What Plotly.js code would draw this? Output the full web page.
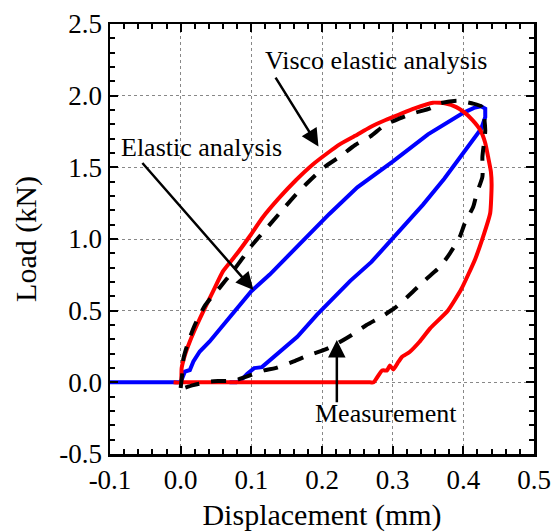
<!DOCTYPE html>
<html>
<head>
<meta charset="utf-8">
<script src="https://cdn.plot.ly/plotly-3.0.1.min.js"></script>
<style>html,body{margin:0;padding:0;background:#fff;}#chart{width:553px;height:532px;}</style>
</head>
<body>
<div id="chart"></div>
<script>
// Elastic analysis (blue)
const elasticX = [-0.1, -0.01, 0, 0.006, 0.013, 0.018, 0.027, 0.041, 0.060, 0.079, 0.1, 0.126, 0.154, 0.182, 0.210, 0.25, 0.3, 0.35, 0.4, 0.415, 0.425, 0.431, 0.431, 0.425, 0.412, 0.4, 0.373, 0.343, 0.3, 0.27, 0.24, 0.212, 0.193, 0.165, 0.146, 0.127, 0.115, 0.104, 0.094, 0.085, 0.079, 0.069];
const elasticY = [0, 0, 0, 0.075, 0.086, 0.145, 0.215, 0.285, 0.40, 0.519, 0.636, 0.752, 0.893, 1.033, 1.173, 1.36, 1.54, 1.73, 1.88, 1.915, 1.926, 1.91, 1.85, 1.767, 1.68, 1.6, 1.42, 1.24, 1.0, 0.84, 0.708, 0.566, 0.472, 0.318, 0.236, 0.153, 0.106, 0.099, 0.059, 0.012, 0, 0];

// Visco elastic analysis (red): flat start, loop, then flat return
const viscoX = [-0.01, 0, 0.0014, 0.006, 0.013, 0.023, 0.032, 0.046, 0.060, 0.079, 0.098, 0.116, 0.140, 0.163, 0.187, 0.208, 0.225, 0.247, 0.268, 0.29, 0.31, 0.33, 0.357, 0.375, 0.39, 0.401, 0.413, 0.424, 0.431, 0.435, 0.439, 0.440, 0.438, 0.428, 0.417, 0.397, 0.378, 0.353, 0.338, 0.324, 0.313, 0.308, 0.301, 0.296, 0.292, 0.285, 0.273, 0.268, 0.2, 0.1, 0.005, 0];
const viscoY = [0, 0, 0.10, 0.19, 0.285, 0.40, 0.495, 0.636, 0.776, 0.893, 1.021, 1.15, 1.29, 1.41, 1.52, 1.60, 1.66, 1.72, 1.78, 1.83, 1.87, 1.91, 1.951, 1.945, 1.92, 1.885, 1.83, 1.76, 1.67, 1.574, 1.47, 1.38, 1.18, 1.016, 0.863, 0.649, 0.50, 0.377, 0.283, 0.212, 0.177, 0.142, 0.09, 0.118, 0.083, 0.083, 0, 0, 0, 0, 0, 0];

// Measurement (black dashed)
const measX = [0.0, 0.002, 0.004, 0.011, 0.02, 0.035, 0.055, 0.074, 0.088, 0.098, 0.126, 0.140, 0.163, 0.177, 0.204, 0.225, 0.247, 0.268, 0.289, 0.310, 0.329, 0.353, 0.367, 0.391, 0.412, 0.426, 0.431, 0.427, 0.427, 0.419, 0.414, 0.402, 0.395, 0.381, 0.367, 0.346, 0.327, 0.303, 0.285, 0.263, 0.242, 0.216, 0.202, 0.181, 0.16, 0.134, 0.118, 0.09, 0.076, 0.055, 0.041, 0.018, 0.0];
const measY = [-0.04, 0.05, 0.168, 0.285, 0.40, 0.54, 0.659, 0.776, 0.869, 0.939, 1.10, 1.18, 1.31, 1.38, 1.504, 1.574, 1.656, 1.714, 1.795, 1.842, 1.877, 1.912, 1.947, 1.965, 1.947, 1.923, 1.76, 1.574, 1.434, 1.319, 1.225, 1.109, 1.016, 0.900, 0.806, 0.714, 0.625, 0.519, 0.46, 0.40, 0.33, 0.255, 0.224, 0.189, 0.146, 0.099, 0.083, 0.035, 0.012, 0.009, 0.005, -0.019, -0.047];

// Ticks
const xTickVals = [-0.1, 0.0, 0.1, 0.2, 0.3, 0.4, 0.5];
const xTickText = ["-0.1", "0.0", "0.1", "0.2", "0.3", "0.4", "0.5"];
const yTickVals = [-0.5, 0.0, 0.5, 1.0, 1.5, 2.0, 2.5];
const yTickText = ["-0.5", "0.0", "0.5", "1.0", "1.5", "2.0", "2.5"];

// Labels
const labelTexts = ["Visco elastic analysis", "Elastic analysis", "Measurement"];
const labelX = [0.276, 0.030, 0.291];
const labelY = [2.243, 1.636, -0.22];
// Arrows: tip (x,y), tail (ax,ay)
const arrowTipX = [0.195, 0.103, 0.221];
const arrowTipY = [1.646, 0.644, 0.295];
const arrowTailX = [0.133, -0.056, 0.221];
const arrowTailY = [2.136, 1.541, -0.15];

const FONT = "Liberation Serif";

const traces = [
  {x: elasticX, y: elasticY, type: 'scatter', mode: 'lines', line: {color: '#0000ff', width: 4}, name: 'Elastic analysis'},
  {x: viscoX, y: viscoY, type: 'scatter', mode: 'lines', line: {color: '#ff0000', width: 4, shape: 'spline', smoothing: 0.5}, name: 'Visco elastic analysis'},
  {x: measX, y: measY, type: 'scatter', mode: 'lines', line: {color: '#000000', width: 4, dash: '15px,12px', shape: 'spline', smoothing: 0.6}, name: 'Measurement'}
];

const annotations = [];
for (let i = 0; i < labelTexts.length; i++) {
  annotations.push({x: labelX[i], y: labelY[i], xref: 'x', yref: 'y', text: labelTexts[i], showarrow: false,
    font: {family: FONT, size: 26, color: '#000'}, xanchor: 'center', yanchor: 'middle'});
}
for (let i = 0; i < arrowTipX.length; i++) {
  annotations.push({x: arrowTipX[i], y: arrowTipY[i], ax: arrowTailX[i], ay: arrowTailY[i], xref: 'x', yref: 'y', axref: 'x', ayref: 'y',
    text: '', showarrow: true, arrowhead: 2, arrowsize: 1.4, arrowwidth: 2.5, arrowcolor: '#000'});
}

function axisBase() {
  return {
    showline: true, linecolor: '#000', linewidth: 2.5, mirror: 'ticks',
    ticks: 'inside', ticklen: 8, tickwidth: 2, tickcolor: '#000',
    showgrid: true, gridcolor: '#888', griddash: 'dot', gridwidth: 1,
    zeroline: false, tickmode: 'array',
    tickfont: {family: FONT, size: 27, color: '#000'}
  };
}

const layout = {
  width: 553, height: 532,
  font: {family: FONT, size: 26, color: '#000'},
  margin: {l: 110, r: 19, t: 24, b: 78},
  paper_bgcolor: '#fff', plot_bgcolor: '#fff',
  showlegend: false,
  xaxis: Object.assign(axisBase(), {
    range: [-0.1, 0.5], tickvals: xTickVals, ticktext: xTickText,
    minor: {tickmode: 'linear', tick0: 0, dtick: 0.02, ticks: 'inside', ticklen: 5, tickwidth: 2, tickcolor: '#000', showgrid: false},
    title: {text: 'Displacement (mm)', font: {family: FONT, size: 30, color: '#000'}, standoff: 12}
  }),
  yaxis: Object.assign(axisBase(), {
    range: [-0.5, 2.5], tickvals: yTickVals, ticktext: yTickText,
    minor: {tickmode: 'linear', tick0: 0, dtick: 0.1, ticks: 'inside', ticklen: 5, tickwidth: 2, tickcolor: '#000', showgrid: false},
    title: {text: 'Load (kN)', font: {family: FONT, size: 30, color: '#000'}, standoff: 14}
  }),
  annotations: annotations
};

Plotly.newPlot('chart', traces, layout, {displayModeBar: false, staticPlot: true});
</script>
</body>
</html>
